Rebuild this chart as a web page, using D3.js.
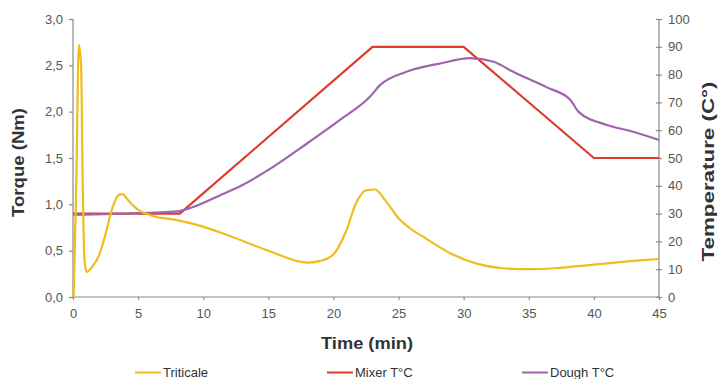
<!DOCTYPE html>
<html><head><meta charset="utf-8">
<script src="https://cdn.jsdelivr.net/npm/d3@7"></script>
<style>body{margin:0;background:#fff}svg{display:block;font-family:"Liberation Sans",Arial,sans-serif}</style>
</head><body><svg id="c" width="718" height="379"></svg>
<script>
// Data
const torqueTicks = [0, 0.5, 1.0, 1.5, 2.0, 2.5, 3.0];
const tempTicks = [0,10,20,30,40,50,60,70,80,90,100];
const timeTicks = [0,5,10,15,20,25,30,35,40,45];

const triticaleTime = [0.05,0.25,0.45,0.62,0.75,0.88,1.05,1.5,2,2.5,3,3.5,3.8,4.2,5,6,8,10,12,15,18,19,20,21,21.7,22.5,23.2,24,25,26,27,29,31,33,35,37,40,43,45];
const triticaleTorque = [0,1.2,2.72,2.5,1.2,0.4,0.27,0.33,0.45,0.68,0.95,1.1,1.11,1.05,0.94,0.88,0.83,0.76,0.66,0.5,0.37,0.39,0.46,0.72,1.0,1.15,1.16,1.04,0.85,0.73,0.64,0.47,0.36,0.31,0.3,0.31,0.35,0.39,0.41];

const mixerTime = [0,8.2,23,30,40,45];
const mixerTemp = [30,30,90,90,50,50];

const doughTime = [0,4,8,9,10,11,12.9,15.4,18,20.5,22.8,23.6,25.6,28.2,30.5,32.3,33.8,36.4,38.2,38.8,41,42.8,45];
const doughTemp = [29.5,30,30.8,32,33.8,36,40,46.9,55.3,63.7,72,76.3,81,84,85.9,84.6,81,75.4,70.9,66.7,61.9,59.7,56.5];

const seriesNames = ["Triticale","Mixer T°C","Dough T°C"];
const colors = ["#efbd1c","#dd3b2c","#a064ad"];

const svg = d3.select("#c");
const x = d3.scaleLinear().domain([0,45]).range([73,659]);
const yL = d3.scaleLinear().domain([0,3]).range([297,19]);
const yR = d3.scaleLinear().domain([0,100]).range([297,19]);

const axisColor = "#8a8a8a", tickText = "#555";

// left axis
const gl = svg.append("g").attr("transform","translate(73,0)")
  .call(d3.axisLeft(yL).tickValues(torqueTicks).tickSize(4).tickPadding(6).tickFormat(d=>d.toFixed(1).replace(".",",")));
// right axis
const gr = svg.append("g").attr("transform","translate(659,0)")
  .call(d3.axisRight(yR).tickValues(tempTicks).tickSize(3).tickPadding(6));
gr.selectAll(".tick line").attr("x1",-3);
// bottom axis
const gb = svg.append("g").attr("transform","translate(0,297)")
  .call(d3.axisBottom(x).tickValues(timeTicks).tickSize(3).tickPadding(9));
[gl,gr,gb].forEach(g=>{
  g.select(".domain").attr("stroke",axisColor).attr("stroke-width",1.2);
  g.selectAll(".tick line").attr("stroke",axisColor).attr("stroke-width",1.2);
  g.selectAll(".tick text").attr("fill",tickText).attr("font-size","13px").attr("font-family","Liberation Sans, Arial, sans-serif");
});
gl.select(".domain").attr("d","M0,19V297");
gr.select(".domain").attr("d","M0,19V297");
gb.select(".domain").attr("d","M73,0H659");

// lines
const lineL = d3.line().x(d=>x(d[0])).y(d=>yL(d[1])).curve(d3.curveMonotoneX);
const lineR = d3.line().x(d=>x(d[0])).y(d=>yR(d[1]));
const lineRs = d3.line().x(d=>x(d[0])).y(d=>yR(d[1])).curve(d3.curveMonotoneX);

svg.append("path").datum(mixerTime.map((t,i)=>[t,mixerTemp[i]]))
  .attr("d",lineR).attr("fill","none").attr("stroke",colors[1]).attr("stroke-width",2.2);
svg.append("path").datum(doughTime.map((t,i)=>[t,doughTemp[i]]))
  .attr("d",lineRs).attr("fill","none").attr("stroke",colors[2]).attr("stroke-width",2.2);
svg.append("path").datum(triticaleTime.map((t,i)=>[t,triticaleTorque[i]]))
  .attr("d",lineL).attr("fill","none").attr("stroke",colors[0]).attr("stroke-width",2.2);

// titles
svg.append("text").attr("transform","translate(24,162.5) rotate(-90)").attr("text-anchor","middle")
  .attr("font-size","17px").attr("font-weight","bold").attr("fill","#333")
  .attr("textLength",109).attr("lengthAdjust","spacingAndGlyphs").text("Torque (Nm)");
svg.append("text").attr("transform","translate(714,171.5) rotate(-90)").attr("text-anchor","middle")
  .attr("font-size","17px").attr("font-weight","bold").attr("fill","#333")
  .attr("textLength",180).attr("lengthAdjust","spacingAndGlyphs").text("Temperature (C°)");
svg.append("text").attr("x",367).attr("y",349).attr("text-anchor","middle")
  .attr("font-size","16.5px").attr("font-weight","bold").attr("fill","#333")
  .attr("textLength",92).attr("lengthAdjust","spacingAndGlyphs").text("Time (min)");

// legend
const legX = [135,327,522];
seriesNames.forEach((n,i)=>{
  const g = svg.append("g").attr("transform",`translate(${legX[i]},372.5)`);
  g.append("line").attr("x1",0).attr("x2",26).attr("y1",0).attr("y2",0).attr("stroke",colors[i]).attr("stroke-width",2);
  g.append("text").attr("x",28).attr("y",4.5).attr("font-size","13px").attr("fill","#333").text(n);
});
</script></body></html>
